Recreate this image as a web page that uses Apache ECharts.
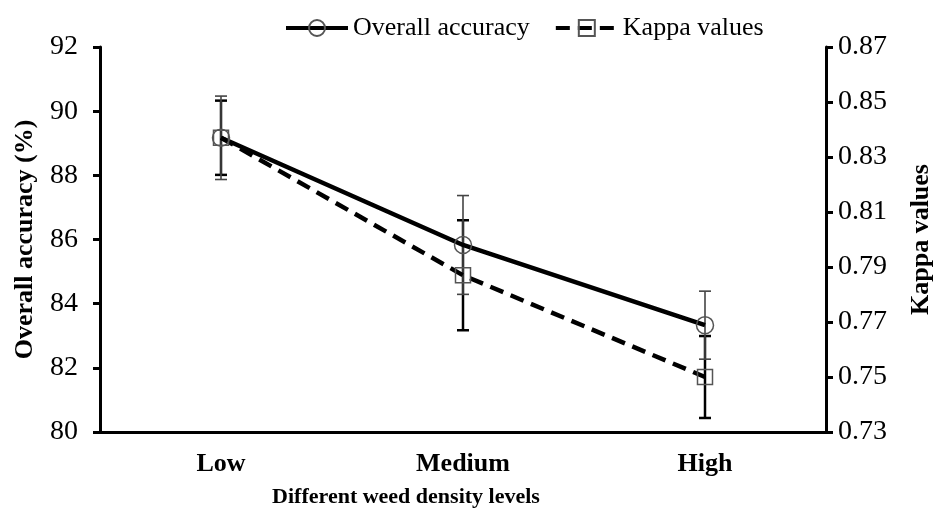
<!DOCTYPE html>
<html>
<head>
<meta charset="utf-8">
<script src="https://cdn.jsdelivr.net/npm/echarts@6/dist/echarts.min.js"></script>
<style>html,body{margin:0;padding:0;background:#fff;}#c{width:934px;height:516px;}</style>
</head>
<body>
<div id="c"></div>
<script>
var categories = ['Low', 'Medium', 'High'];
var oaValues = [89.17, 85.83, 83.33];
var oaErrors = [1.3, 1.54, 1.06];
var kappaValues = [0.837, 0.787, 0.750];
var kappaErrors = [0.0135, 0.020, 0.0149];
var kappaTicks = [0.73, 0.75, 0.77, 0.79, 0.81, 0.83, 0.85, 0.87];

var FONT = '"Liberation Serif", "Times New Roman", serif';

function errData(vals, errs) {
  return vals.map(function (v, i) { return [i, v - errs[i], v + errs[i]]; });
}
function errRender(color, width) {
  return function (params, api) {
    var x = api.value(0);
    var lo = api.coord([x, api.value(1)]);
    var hi = api.coord([x, api.value(2)]);
    var hw = 6;
    var st = { stroke: color, lineWidth: width, fill: null };
    return {
      type: 'group',
      children: [
        { type: 'line', shape: { x1: lo[0], y1: lo[1], x2: hi[0], y2: hi[1] }, style: st },
        { type: 'line', shape: { x1: lo[0] - hw, y1: lo[1], x2: lo[0] + hw, y2: lo[1] }, style: st },
        { type: 'line', shape: { x1: hi[0] - hw, y1: hi[1], x2: hi[0] + hw, y2: hi[1] }, style: st }
      ]
    };
  };
}

var chart = echarts.init(document.getElementById('c'), null, { renderer: 'canvas' });
chart.setOption({
  animation: false,
  backgroundColor: '#fff',
  textStyle: { fontFamily: FONT },
  grid: { left: 100, right: 108, top: 47, bottom: 84, containLabel: false, outerBoundsMode: 'none' },
  legend: {
    left: 279, top: 10,
    itemWidth: 62, itemHeight: 20, itemGap: 24,
    textStyle: { fontFamily: FONT, fontSize: 26, color: '#000' },
    data: [
      { name: 'Overall accuracy', lineStyle: { width: 4 } },
      { name: 'Kappa values', lineStyle: { width: 4 } }
    ]
  },
  xAxis: {
    type: 'category',
    data: categories,
    boundaryGap: true,
    axisLine: { lineStyle: { color: '#000', width: 3 } },
    axisTick: { alignWithLabel: true, length: 6, lineStyle: { color: '#000', width: 3 } },
    axisLabel: { fontFamily: FONT, fontSize: 26, fontWeight: 'bold', color: '#000', margin: 19 },
    name: 'Different weed density levels',
    nameLocation: 'middle',
    nameGap: 54,
    nameTextStyle: { fontFamily: FONT, fontSize: 22, fontWeight: 'bold', color: '#000', padding: [0, 114, 0, 0] },
    splitLine: { show: false }
  },
  yAxis: [
    {
      type: 'value', min: 80, max: 92, interval: 2,
      axisLine: { show: true, lineStyle: { color: '#000', width: 3 } },
      axisTick: { show: true, length: 7, lineStyle: { color: '#000', width: 3 } },
      axisLabel: { fontFamily: FONT, fontSize: 28, color: '#000', margin: 22 },
      splitLine: { show: false },
      name: 'Overall accuracy (%)',
      nameLocation: 'middle',
      nameGap: 62,
      nameTextStyle: { fontFamily: FONT, fontSize: 26, fontWeight: 'bold', color: '#000' }
    },
    {
      type: 'value', min: 0.73, max: 0.87,
      position: 'right',
      axisLine: { show: true, lineStyle: { color: '#000', width: 3 } },
      axisTick: { show: true, length: 7, customValues: kappaTicks, lineStyle: { color: '#000', width: 3 } },
      axisLabel: { fontFamily: FONT, fontSize: 28, color: '#000', margin: 12, customValues: kappaTicks,
        formatter: function (v) { return v.toFixed(2); } },
      splitLine: { show: false },
      name: 'Kappa values',
      nameLocation: 'middle',
      nameGap: 82,
      nameTextStyle: { fontFamily: FONT, fontSize: 26, fontWeight: 'bold', color: '#000' }
    }
  ],
  series: [
    {
      type: 'custom', yAxisIndex: 1, z: 1, silent: true,
      renderItem: errRender('#000', 2.5),
      data: errData(kappaValues, kappaErrors)
    },
    {
      type: 'custom', yAxisIndex: 0, z: 1, silent: true,
      renderItem: errRender('#444', 1.6),
      data: errData(oaValues, oaErrors)
    },
    {
      name: 'Overall accuracy',
      type: 'line', yAxisIndex: 0, z: 3,
      data: oaValues,
      symbol: 'circle', symbolSize: 17,
      lineStyle: { color: '#000', width: 4.5 },
      itemStyle: { color: 'rgba(255,255,255,0)', borderColor: '#555', borderWidth: 1.5 }
    },
    {
      name: 'Kappa values',
      type: 'line', yAxisIndex: 1, z: 3,
      data: kappaValues,
      symbol: 'rect', symbolSize: 15,
      lineStyle: { color: '#000', width: 4.5, type: [14, 8] },
      itemStyle: { color: 'rgba(255,255,255,0)', borderColor: '#555', borderWidth: 1.5 }
    }
  ]
});
</script>
</body>
</html>
